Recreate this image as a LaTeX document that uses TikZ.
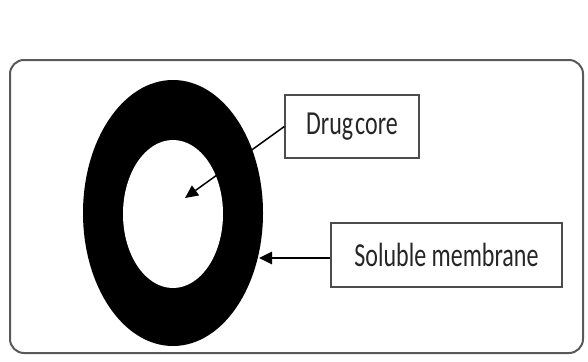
\documentclass[tikz,border=0pt]{standalone}
\usepackage{fontspec}
\newfontfamily\labelfont{Carlito}
\usetikzlibrary{shapes.geometric,arrows.meta}
\tikzset{
  labelbox/.style={draw=black!70,line width=1.3pt,fill=white,inner sep=0pt,
    font=\labelfont\fontsize{24}{28}\selectfont,text=black!85},
  pointer/.style={-{Triangle[length=13pt,width=12pt]},line width=1.5pt}
}
\begin{document}
\begin{tikzpicture}[x=1pt,y=-1pt]
            \useasboundingbox (0,0) rectangle (588,361);
            % frame
            \draw[black!65,line width=2pt,rounded corners=14pt] (10,60) rectangle (583,353);
            
            % ring
            \node[shape=ellipse,fill=black,inner sep=0pt,minimum width=180pt,minimum height=266pt] (membrane) at (173,213) {};
            \node[shape=ellipse,fill=white,inner sep=0pt,minimum width=100pt,minimum height=148pt] (core) at (173,214) {};
            
            % labels
            \node[labelbox,minimum width=134pt,minimum height=63pt] (drugbox) at (352,126.5) {\scalebox{1}[1.4]{Drug\kern2pt core}};
            \node[labelbox,minimum width=231pt,minimum height=64pt] (solbox) at (446.5,255) {\scalebox{1}[1.4]{Soluble membrane}};
            \coordinate (coretip) at (185,198);
            \coordinate (memtip) at (259,258);
            
            % arrows
            \path [pointer](drugbox.west) edge (coretip);
            \path [pointer,line width=2.6pt](solbox.west |- memtip) edge (memtip);
        \end{tikzpicture}
\end{document}
